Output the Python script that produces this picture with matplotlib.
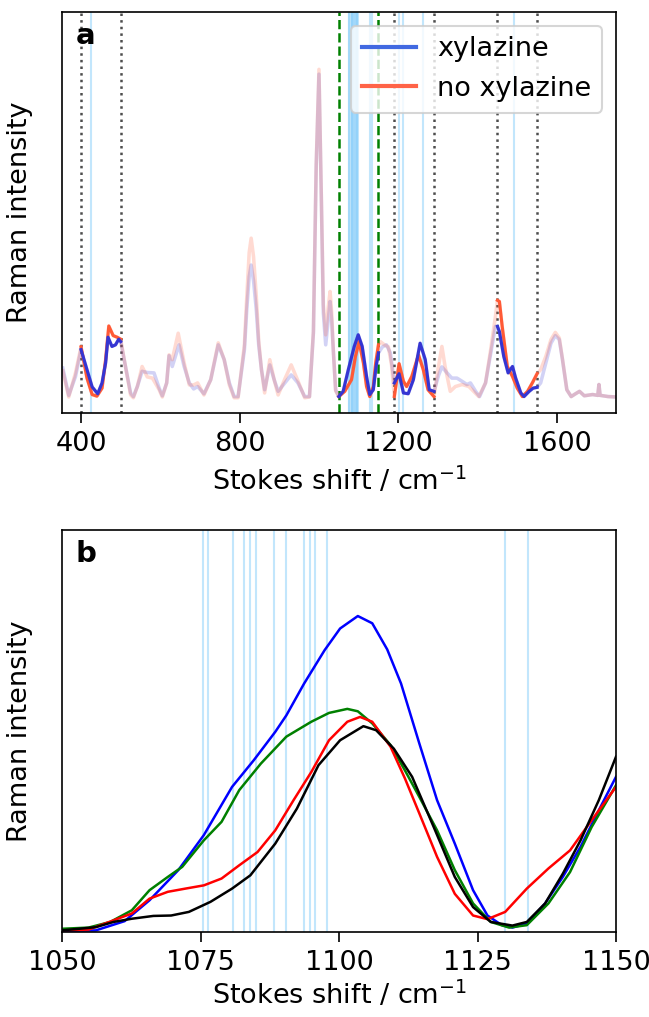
import matplotlib
matplotlib.use("Agg")
import matplotlib.pyplot as plt
from matplotlib.lines import Line2D
import numpy as np

# ---- panel a: full spectra (arbitrary units) ----
shift_xyl = np.array([
    354, 369, 386, 400, 415, 428, 442, 453, 462, 468, 478, 487, 495, 500,
    512, 525, 532, 542, 554, 567, 584, 597, 605, 616, 622, 630, 647, 660,
    673, 684, 694, 710, 727, 746, 761, 774, 786, 796, 812, 818, 824, 829,
    835, 842, 848, 855, 863, 876, 887, 897, 914, 930, 947, 964, 976, 986,
    993, 1000, 1006, 1011, 1017, 1023, 1028, 1032, 1036, 1042, 1050, 1061,
    1074, 1089, 1099, 1109, 1120, 1128, 1137, 1144, 1150, 1160, 1170, 1180,
    1190, 1202, 1213, 1225, 1238, 1255, 1268, 1278, 1290, 1302, 1310, 1323,
    1335, 1348, 1361, 1373, 1382, 1395, 1405, 1420, 1433, 1445, 1450, 1455,
    1466, 1477, 1488, 1496, 1509, 1517, 1530, 1540, 1550, 1559, 1572, 1585,
    1596, 1606, 1614, 1625, 1636, 1647, 1657, 1669, 1690, 1703, 1706, 1709,
    1729, 1748])
int_xyl = np.array([
    0.112, 0.044, 0.091, 0.158, 0.108, 0.065, 0.048, 0.075, 0.125, 0.189,
    0.166, 0.170, 0.184, 0.178, 0.116, 0.050, 0.041, 0.066, 0.104, 0.101,
    0.100, 0.062, 0.043, 0.075, 0.143, 0.116, 0.170, 0.116, 0.075, 0.060,
    0.066, 0.048, 0.083, 0.170, 0.133, 0.075, 0.041, 0.041, 0.158, 0.260,
    0.340, 0.369, 0.330, 0.257, 0.170, 0.108, 0.058, 0.120, 0.083, 0.054,
    0.075, 0.095, 0.075, 0.041, 0.041, 0.200, 0.614, 0.845, 0.531, 0.250,
    0.170, 0.230, 0.278, 0.230, 0.158, 0.058, 0.041, 0.054, 0.108, 0.166,
    0.195, 0.166, 0.091, 0.046, 0.058, 0.116, 0.150, 0.165, 0.170, 0.150,
    0.075, 0.098, 0.050, 0.048, 0.083, 0.174, 0.133, 0.058, 0.054, 0.095,
    0.115, 0.100, 0.087, 0.087, 0.079, 0.071, 0.075, 0.054, 0.041, 0.075,
    0.149, 0.216, 0.216, 0.203, 0.141, 0.100, 0.116, 0.087, 0.050, 0.041,
    0.054, 0.062, 0.064, 0.075, 0.125, 0.174, 0.193, 0.183, 0.133, 0.058,
    0.041, 0.048, 0.054, 0.043, 0.046, 0.044, 0.071, 0.044, 0.041, 0.040])

shift_noxyl = np.array([
    354, 369, 386, 400, 415, 428, 440, 453, 462, 470, 481, 491, 500, 512,
    525, 532, 542, 554, 567, 580, 597, 605, 616, 622, 630, 645, 660, 673,
    684, 694, 710, 727, 746, 761, 774, 786, 796, 812, 818, 824, 829, 835,
    842, 848, 855, 863, 876, 887, 897, 914, 930, 947, 964, 976, 986, 993,
    1000, 1006, 1011, 1017, 1023, 1028, 1032, 1036, 1042, 1050, 1065, 1082,
    1092, 1101, 1112, 1120, 1128, 1137, 1143, 1150, 1155, 1165, 1175, 1183,
    1190, 1202, 1213, 1221, 1234, 1251, 1263, 1275, 1290, 1300, 1310, 1318,
    1331, 1344, 1361, 1378, 1390, 1403, 1420, 1433, 1445, 1450, 1455, 1462,
    1475, 1488, 1500, 1513, 1526, 1538, 1550, 1559, 1572, 1585, 1596, 1606,
    1614, 1625, 1636, 1647, 1657, 1669, 1690, 1703, 1706, 1709, 1729, 1748])
int_noxyl = np.array([
    0.105, 0.040, 0.100, 0.165, 0.087, 0.046, 0.042, 0.062, 0.133, 0.217,
    0.193, 0.189, 0.184, 0.116, 0.045, 0.038, 0.066, 0.116, 0.090, 0.087,
    0.058, 0.040, 0.075, 0.145, 0.133, 0.199, 0.125, 0.070, 0.070, 0.075,
    0.045, 0.083, 0.175, 0.133, 0.070, 0.038, 0.038, 0.170, 0.290, 0.400,
    0.436, 0.390, 0.290, 0.180, 0.108, 0.050, 0.133, 0.083, 0.045, 0.085,
    0.120, 0.080, 0.038, 0.040, 0.205, 0.620, 0.857, 0.540, 0.270, 0.195,
    0.260, 0.303, 0.250, 0.160, 0.055, 0.041, 0.054, 0.083, 0.141, 0.178,
    0.125, 0.066, 0.041, 0.066, 0.125, 0.170, 0.178, 0.170, 0.165, 0.120,
    0.041, 0.123, 0.079, 0.066, 0.091, 0.145, 0.108, 0.058, 0.041, 0.108,
    0.166, 0.116, 0.054, 0.066, 0.071, 0.066, 0.054, 0.041, 0.075, 0.158,
    0.241, 0.281, 0.278, 0.216, 0.116, 0.091, 0.062, 0.041, 0.054, 0.075,
    0.098, 0.108, 0.141, 0.183, 0.201, 0.187, 0.135, 0.058, 0.041, 0.048,
    0.054, 0.043, 0.046, 0.044, 0.071, 0.044, 0.041, 0.040])

# highlighted windows (dotted / dashed bounds)
windows = [(400, 500), (1050, 1150), (1190, 1290), (1450, 1550)]
dotted_lines = [400, 500, 1190, 1290, 1450, 1550]
dashed_lines = [1050, 1150]

# selected feature positions (light blue lines)
features_b = [1075.4, 1076.4, 1080.8, 1082.9, 1083.9, 1085.0, 1088.3, 1090.4,
              1093.7, 1094.7, 1095.7, 1097.8, 1129.9, 1134.1]
features_a = [425] + features_b + [1202, 1213, 1262, 1493]

# ---- panel b: zoomed spectra ----
shift_blue = np.array([1050, 1056.1, 1061.3, 1065.8, 1071.0, 1075.6, 1080.7, 1084.6,
                       1088.5, 1090.5, 1093.7, 1097.4, 1100.2, 1103.4, 1106.0, 1108.7,
                       1111.2, 1114.5, 1117.7, 1120.9, 1124.2, 1126.8, 1129.4, 1131.3,
                       1133.9, 1137.2, 1140.4, 1143.6, 1146.9, 1150])
int_blue = np.array([0.003, 0.004, 0.027, 0.079, 0.154, 0.241, 0.361, 0.427,
                     0.498, 0.539, 0.618, 0.701, 0.755, 0.786, 0.768, 0.703,
                     0.618, 0.469, 0.328, 0.220, 0.104, 0.041, 0.017, 0.011,
                     0.021, 0.071, 0.137, 0.212, 0.303, 0.386])

shift_green = np.array([1050, 1054.8, 1058.7, 1062.6, 1065.8, 1069.1, 1071.7, 1075.6,
                        1078.8, 1082.0, 1085.9, 1090.5, 1095.0, 1098.2, 1101.5, 1103.4,
                        1106.0, 1109.3, 1111.9, 1114.5, 1117.7, 1120.9, 1124.2, 1127.4,
                        1130.7, 1133.9, 1137.8, 1141.7, 1145.6, 1150])
int_green = np.array([0.008, 0.011, 0.025, 0.054, 0.104, 0.137, 0.162, 0.228,
                      0.274, 0.353, 0.419, 0.486, 0.523, 0.545, 0.555, 0.549,
                      0.519, 0.465, 0.402, 0.336, 0.253, 0.154, 0.071, 0.025,
                      0.011, 0.017, 0.071, 0.149, 0.261, 0.365])

shift_red = np.array([1050, 1054.8, 1059.3, 1062.6, 1065.8, 1069.1, 1072.3, 1075.6,
                      1078.8, 1082.0, 1085.3, 1088.5, 1091.8, 1095.0, 1098.2, 1101.5,
                      1103.8, 1106.0, 1109.3, 1111.9, 1114.5, 1117.7, 1120.9, 1124.2,
                      1126.8, 1130.0, 1133.9, 1137.8, 1141.7, 1145.6, 1150])
int_red = np.array([0.004, 0.006, 0.029, 0.046, 0.083, 0.100, 0.108, 0.116,
                    0.133, 0.166, 0.199, 0.253, 0.328, 0.398, 0.477, 0.523,
                    0.535, 0.523, 0.461, 0.382, 0.295, 0.187, 0.095, 0.041,
                    0.032, 0.050, 0.108, 0.158, 0.203, 0.278, 0.361])

shift_black = np.array([1050, 1056.1, 1059.3, 1062.6, 1066.5, 1069.7, 1072.9, 1076.8,
                        1080.7, 1084.0, 1088.5, 1092.4, 1096.3, 1100.2, 1104.4, 1106.7,
                        1109.9, 1113.2, 1117.1, 1120.9, 1124.2, 1127.4, 1131.3, 1133.9,
                        1137.2, 1140.4, 1143.6, 1146.9, 1150])
int_black = np.array([0.004, 0.012, 0.025, 0.033, 0.040, 0.041, 0.050, 0.075,
                      0.108, 0.141, 0.220, 0.307, 0.415, 0.477, 0.512, 0.502,
                      0.456, 0.386, 0.261, 0.137, 0.062, 0.025, 0.016, 0.025,
                      0.071, 0.145, 0.228, 0.328, 0.436])

plt.rcParams.update({"font.size": 13, "font.family": "DejaVu Sans",
                     "xtick.major.size": 5, "xtick.major.pad": 3.5})

W, H = 649, 1017
fig = plt.figure(figsize=(W / 150, H / 150), dpi=150)
ax_a = fig.add_axes([62 / W, 1 - 413 / H, 554 / W, 401 / H])
ax_b = fig.add_axes([62 / W, 1 - 932 / H, 554 / W, 402 / H])

BLUE = "#3535d2"
RED = "#ff5a36"

# ---- panel a ----
for f in features_a:
    ax_a.axvline(f, color="lightskyblue", alpha=0.5, lw=1.0, zorder=0)
for d in dotted_lines:
    ax_a.axvline(d, color="0.3", ls=":", lw=1.2, zorder=1)
for d in dashed_lines:
    ax_a.axvline(d, color="green", ls="--", lw=1.2, zorder=1)

ax_a.plot(shift_xyl, int_xyl, color=BLUE, alpha=0.22, lw=1.7, zorder=2)
ax_a.plot(shift_noxyl, int_noxyl, color=RED, alpha=0.22, lw=1.7, zorder=2)
for lo, hi in windows:
    m1 = (shift_xyl >= lo) & (shift_xyl <= hi)
    m2 = (shift_noxyl >= lo) & (shift_noxyl <= hi)
    ax_a.plot(shift_noxyl[m2], int_noxyl[m2], color=RED, lw=1.5, zorder=3)
    ax_a.plot(shift_xyl[m1], int_xyl[m1], color=BLUE, lw=1.5, zorder=3)

handles = [Line2D([], [], color="royalblue", lw=2),
           Line2D([], [], color="tomato", lw=2)]
ax_a.legend(handles, ["xylazine", "no xylazine"], loc="upper right")

ax_a.set_xlim(352, 1749)
ax_a.set_ylim(0, 1)
ax_a.set_xticks([400, 800, 1200, 1600])
ax_a.set_yticks([])
ax_a.set_xlabel("Stokes shift / cm$^{-1}$", labelpad=4)
ax_a.set_ylabel("Raman intensity", labelpad=14)
ax_a.text(0.025, 0.975, "a", transform=ax_a.transAxes, fontweight="bold",
          fontsize=14, ha="left", va="top")

# ---- panel b ----
for f in features_b:
    ax_b.axvline(f, color="lightskyblue", alpha=0.5, lw=1.0, zorder=0)
ax_b.plot(shift_blue, int_blue, color="blue", lw=1.2)
ax_b.plot(shift_green, int_green, color="green", lw=1.2)
ax_b.plot(shift_red, int_red, color="red", lw=1.2)
ax_b.plot(shift_black, int_black, color="black", lw=1.2)

ax_b.set_xlim(1050, 1150)
ax_b.set_ylim(0, 1)
ax_b.set_xticks([1050, 1075, 1100, 1125, 1150])
ax_b.set_yticks([])
ax_b.set_xlabel("Stokes shift / cm$^{-1}$", labelpad=2)
ax_b.set_ylabel("Raman intensity", labelpad=14)
ax_b.text(0.025, 0.975, "b", transform=ax_b.transAxes, fontweight="bold",
          fontsize=14, ha="left", va="top")

fig.savefig("out.png", dpi=150)
